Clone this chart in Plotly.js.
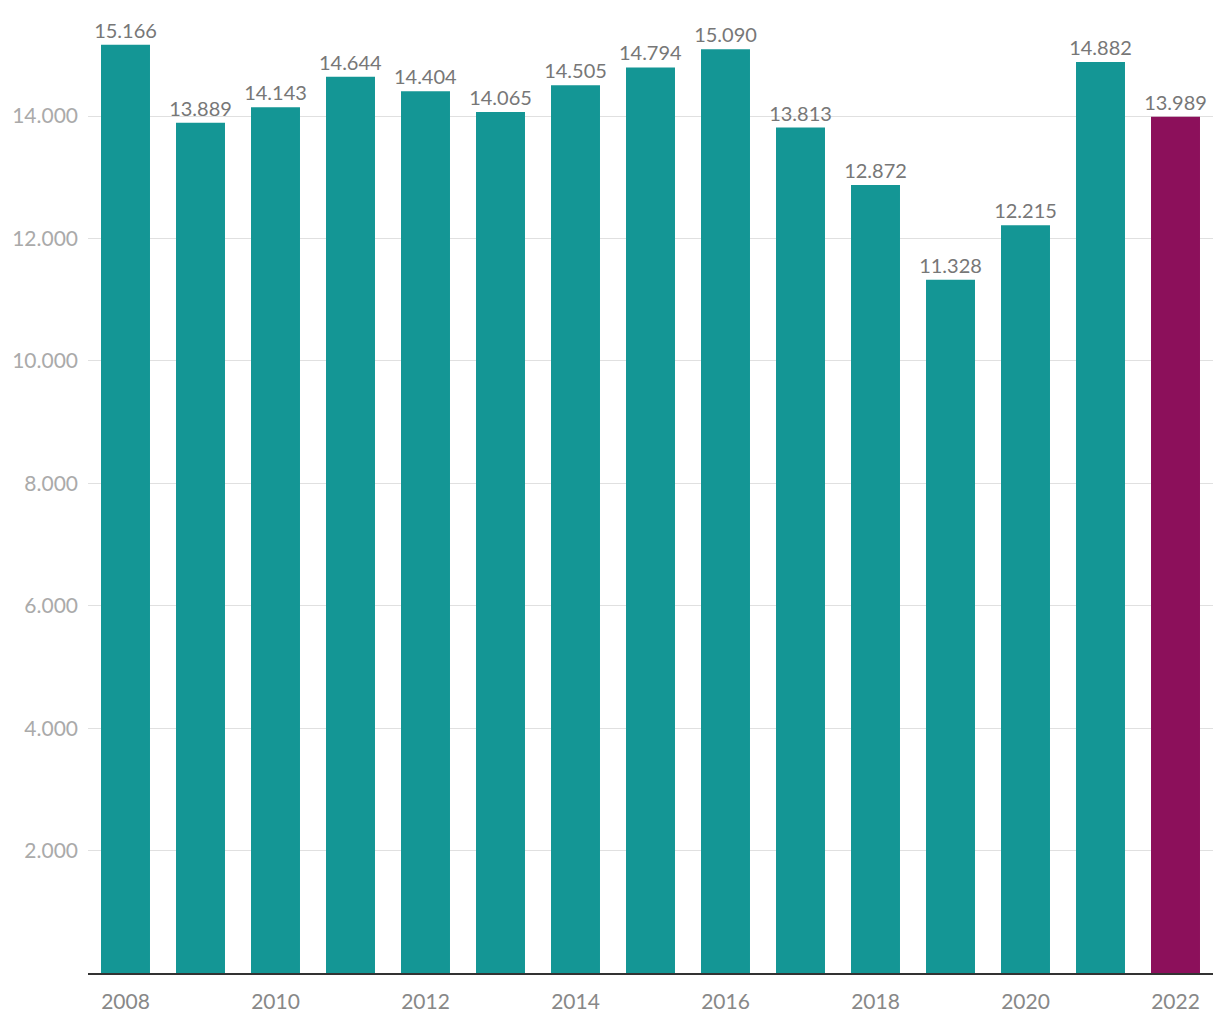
<!DOCTYPE html>
<html>
<head>
<meta charset="utf-8">
<script src="https://cdn.plot.ly/plotly-3.0.1.min.js"></script>
<style>
  html, body { margin: 0; padding: 0; background: #fff; }
  #chart { width: 1220px; height: 1020px; }
</style>
</head>
<body>
<div id="chart"></div>
<script>
// data
const years = [2008, 2009, 2010, 2011, 2012, 2013, 2014, 2015, 2016, 2017, 2018, 2019, 2020, 2021, 2022];
const values = [15166, 13889, 14143, 14644, 14404, 14065, 14505, 14794, 15090, 13813, 12872, 11328, 12215, 14882, 13989];
const yTicks = [2000, 4000, 6000, 8000, 10000, 12000, 14000];
const xTicks = [2008, 2010, 2012, 2014, 2016, 2018, 2020, 2022];

const teal = '#149695';
const purple = '#8c105b';

// german thousand separator
const fmt = v => String(v).replace(/\B(?=(\d{3})+(?!\d))/g, '.');

const barColors = years.map(y => y === 2022 ? purple : teal);

const trace = {
  type: 'bar',
  x: years,
  y: values,
  marker: { color: barColors },
  text: values.map(fmt),
  textposition: 'outside',
  constraintext: 'none',
  cliponaxis: false,
  textfont: { family: 'Lato, sans-serif', size: 20, color: '#777' },
  hoverinfo: 'none'
};

const layout = {
  width: 1220,
  height: 1020,
  margin: { l: 88, r: 7, t: 10, b: 47 },
  paper_bgcolor: '#fff',
  plot_bgcolor: '#fff',
  bargap: 0.347,
  showlegend: false,
  font: { family: 'Lato, sans-serif' },
  xaxis: {
    type: 'linear',
    range: [2007.5, 2022.5],
    tickvals: xTicks,
    ticktext: xTicks.map(String),
    showgrid: false,
    zeroline: false,
    showline: true,
    linecolor: '#333',
    linewidth: 2,
    ticks: '',
    ticklabelstandoff: 9,
    tickfont: { size: 21, color: '#888' }
  },
  yaxis: {
    range: [0, 15733],
    tickvals: yTicks,
    ticktext: yTicks.map(fmt),
    showgrid: true,
    gridcolor: '#e0e0e0',
    gridwidth: 1,
    zeroline: false,
    showline: false,
    ticks: '',
    ticklabelstandoff: 9,
    tickfont: { size: 21, color: '#aaa' }
  }
};

Plotly.newPlot('chart', [trace], layout, { displayModeBar: false, staticPlot: true });
</script>
</body>
</html>
